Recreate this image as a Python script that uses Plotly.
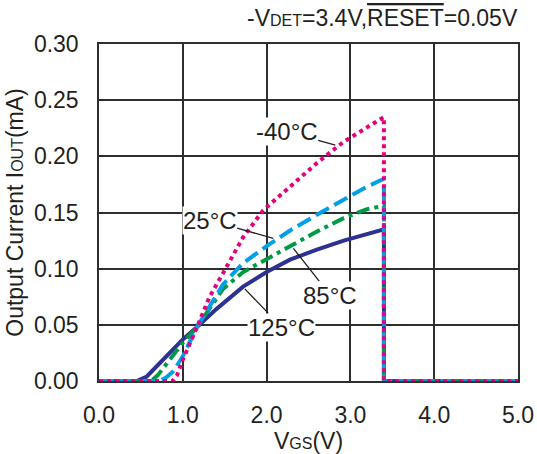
import plotly.graph_objects as go

# ---- data ----
v_125 = [0.0, 0.45, 0.57, 0.69, 0.80, 0.89, 1.00, 1.17, 1.40, 1.72, 2.00, 2.28, 2.60, 2.92, 3.20, 3.40, 3.40, 5.0]
i_125 = [0.0, 0.0, 0.004, 0.013, 0.021, 0.029, 0.037, 0.048, 0.064, 0.084, 0.097, 0.108, 0.117, 0.125, 0.131, 0.135, 0.0, 0.0]

v_85 = [0.0, 0.62, 0.70, 0.77, 0.90, 1.00, 1.17, 1.48, 1.72, 2.00, 2.28, 2.60, 2.92, 3.20, 3.40, 3.40, 5.0]
i_85 = [0.0, 0.0, 0.005, 0.012, 0.025, 0.034, 0.048, 0.082, 0.097, 0.109, 0.120, 0.133, 0.145, 0.153, 0.156, 0.0, 0.0]

v_25 = [0.0, 0.72, 0.80, 0.89, 1.00, 1.17, 1.48, 1.72, 2.00, 2.28, 2.60, 2.92, 3.20, 3.40, 3.40, 5.0]
i_25 = [0.0, 0.0, 0.003, 0.009, 0.022, 0.048, 0.086, 0.105, 0.120, 0.134, 0.148, 0.161, 0.173, 0.180, 0.0, 0.0]

v_m40 = [0.0, 0.88, 0.93, 1.00, 1.17, 1.32, 1.48, 1.72, 1.96, 2.28, 2.60, 2.92, 3.27, 3.40, 3.40, 5.0]
i_m40 = [0.0, 0.0, 0.005, 0.019, 0.048, 0.075, 0.096, 0.128, 0.152, 0.173, 0.194, 0.213, 0.229, 0.235, 0.0, 0.0]

x_ticks = [0.0, 1.0, 2.0, 3.0, 4.0, 5.0]
y_ticks = [0.00, 0.05, 0.10, 0.15, 0.20, 0.25, 0.30]

INK = "#231F20"
GRID = "#2e2e2e"
FONT = "Liberation Sans, Arial, sans-serif"

fig = go.Figure()
fig.add_trace(go.Scatter(x=v_125, y=i_125, mode="lines",
                         line=dict(color="#2E3192", width=4), name="125°C"))
fig.add_trace(go.Scatter(x=v_85, y=i_85, mode="lines",
                         line=dict(color="#009944", width=4, dash="13px,5px,4px,5px"), name="85°C"))
fig.add_trace(go.Scatter(x=v_25, y=i_25, mode="lines",
                         line=dict(color="#00A0E9", width=4, dash="15px,6px"), name="25°C"))
fig.add_trace(go.Scatter(x=v_m40, y=i_m40, mode="lines",
                         line=dict(color="#E4007F", width=4, dash="4px,4px"), name="-40°C"))

ann_font = dict(family=FONT, size=24, color=INK)
labels = [
    ("-40°C", 2.24, 0.222, 2.82, 0.210),
    ("25°C", 1.32, 0.143, 2.08, 0.127),
    ("85°C", 2.76, 0.0765, 2.32, 0.118),
    ("125°C", 2.18, 0.048, 1.74, 0.082),
]
for txt, tx, ty, px, py in labels:
    fig.add_annotation(x=px, y=py, ax=tx, ay=ty, xref="x", yref="y", axref="x", ayref="y",
                       text=txt, showarrow=True, arrowhead=0, arrowwidth=1.3, arrowcolor=INK,
                       bgcolor="white", borderpad=0, font=ann_font)

fig.add_annotation(
    x=1.005, y=1.077, xref="paper", yref="paper", xanchor="right", yanchor="middle",
    text="-V<span style='font-size:16px'>DET</span>=3.4V,"
         "<span style='text-decoration:overline'>RESET</span>=0.05V",
    showarrow=False, font=dict(family=FONT, size=23, color=INK))

fig.update_layout(
    width=537, height=454,
    margin=dict(l=99, r=19, t=44, b=73),
    paper_bgcolor="white", plot_bgcolor="white",
    showlegend=False,
    font=dict(family=FONT, size=23, color=INK),
)
fig.update_xaxes(
    range=[0, 5], tickvals=x_ticks, tickformat=".1f",
    showgrid=True, gridcolor=GRID, gridwidth=1.5,
    showline=True, linecolor=GRID, linewidth=1.5, mirror=True,
    ticks="", ticklabelstandoff=13, zeroline=False, automargin=False,
    title=dict(text="V<span style='font-size:16px'>GS</span>(V)", standoff=8,
               font=dict(family=FONT, size=23, color=INK)),
)
fig.update_yaxes(
    range=[0, 0.30], tickvals=y_ticks, tickformat=".2f",
    showgrid=True, gridcolor=GRID, gridwidth=1.5,
    showline=True, linecolor=GRID, linewidth=1.5, mirror=True,
    ticks="", ticklabelstandoff=14, zeroline=False, automargin=False,
    title=dict(text="Output Current I<span style='font-size:16px'>OUT</span>(mA)", standoff=4,
               font=dict(family=FONT, size=23, color=INK)),
)

fig.write_html("out.html", config={"displayModeBar": False},
               post_script="document.body.style.margin='0';")
